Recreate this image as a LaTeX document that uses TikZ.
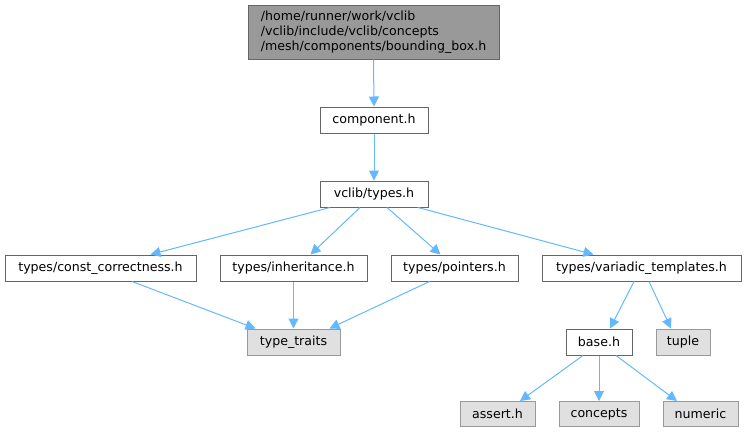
\documentclass[tikz,border=0pt]{standalone}
\usepackage{fontspec}
\setmainfont{DejaVu Sans}
\usetikzlibrary{arrows.meta}
\definecolor{edgeblue}{HTML}{63B8FF}
\definecolor{bord}{HTML}{666666}
\definecolor{lbord}{HTML}{999999}
\definecolor{sysfill}{HTML}{E0E0E0}
\definecolor{topfill}{HTML}{999999}
\tikzset{
  filebox/.style={draw=bord, fill=white, line width=1pt, minimum height=26pt, inner sep=0pt, font=\fontsize{12.6}{15}\selectfont},
  sysbox/.style={draw=lbord, fill=sysfill, line width=1pt, minimum height=26pt, inner sep=0pt, font=\fontsize{12.6}{15}\selectfont},
  topbox/.style={draw=bord, fill=topfill, line width=1pt, minimum height=54pt, inner sep=0pt, align=left, font=\fontsize{12.6}{15}\selectfont},
  dep/.style={draw=edgeblue, line width=1pt, -{Triangle[length=10pt,width=10pt]}}
}
\begin{document}
\begin{tikzpicture}[x=1pt,y=-1pt]
\useasboundingbox (0,0) rectangle (747,432);
\node[topbox, minimum width=251pt] (top) at (373.5,32) {/home/runner/work/vclib\\/vclib/include/vclib/concepts\\/mesh/components/bounding\_box.h};
\node[filebox, minimum width=108pt] (comp) at (374,120) {component.h};
\node[filebox, minimum width=108pt] (types) at (374,194) {vclib/types.h};
\node[filebox, minimum width=191pt] (const) at (100.5,268) {types/const\_correctness.h};
\node[filebox, minimum width=147pt] (inh) at (293.5,268) {types/inheritance.h};
\node[filebox, minimum width=127pt] (ptr) at (454.5,268) {types/pointers.h};
\node[filebox, minimum width=199pt] (var) at (641.5,268) {types/variadic\_templates.h};
\node[sysbox, minimum width=93pt] (tt) at (293.5,342) {type\_traits};
\node[filebox, minimum width=66pt] (base) at (599,342) {base.h};
\node[sysbox, minimum width=54pt] (tuple) at (683,342) {tuple};
\node[sysbox, minimum width=75pt, minimum height=25pt] (assert) at (497.5,414) {assert.h};
\node[sysbox, minimum width=80pt, minimum height=25pt] (concepts) at (599,414) {concepts};
\node[sysbox, minimum width=75pt, minimum height=25pt] (numeric) at (700.5,414) {numeric};
\draw[dep] (top.south) -- (comp.north);
\draw[dep] (comp) -- (types);
\draw[dep] ([xshift=-44pt]types.south) -- ([xshift=50pt]const.north);
\draw[dep] ([xshift=-14pt]types.south) -- ([xshift=17pt]inh.north);
\draw[dep] ([xshift=13pt]types.south) -- ([xshift=-14pt]ptr.north);
\draw[dep] ([xshift=44pt]types.south) -- ([xshift=-48pt]var.north);
\draw[dep] ([xshift=31.5pt]const.south) -- ([xshift=-38pt]tt.north);
\draw[dep] (inh) -- (tt);
\draw[dep] ([xshift=-25pt]ptr.south) -- ([xshift=36pt]tt.north);
\draw[dep] ([xshift=-7.5pt]var.south) -- ([xshift=11pt]base.north);
\draw[dep] ([xshift=7.5pt]var.south) -- ([xshift=-12pt]tuple.north);
\draw[dep] ([xshift=-16pt]base.south) -- ([xshift=22.5pt]assert.north);
\draw[dep] (base) -- (concepts);
\draw[dep] ([xshift=17pt]base.south) -- ([xshift=-23.5pt]numeric.north);
\end{tikzpicture}
\end{document}
